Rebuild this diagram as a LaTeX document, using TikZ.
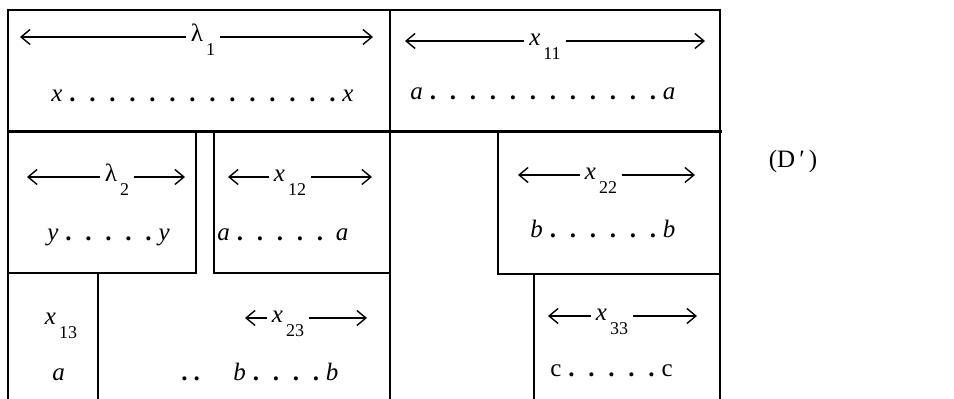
\documentclass[tikz,border=0pt]{standalone}
\usepackage{fontspec}
\setmainfont{Liberation Serif}
\usetikzlibrary{arrows.meta}
% one unit = one dot of a 954 x 399 grid
\tikzset{
  x=0.5pt, y=-0.5pt,
  rule/.style={line width=1.1pt, line cap=rect},
  heavyrule/.style={line width=1.5pt, line cap=rect},
  span/.style={line width=0.65pt,
    -{Straight Barb[length=4.5pt,width=7.5pt,line width=0.7pt]}},
  lab/.style={inner ysep=0pt, inner xsep=2.5pt, font=\fontsize{12.5}{14}\selectfont},
  row/.style={inner sep=0pt, anchor=base west, font=\fontsize{12.5}{14}\selectfont},
}
% a dot in a fixed-width cell, for the dotted sequences
\newcommand\dd{\makebox[10pt]{\textbf{.}}}
% lowered index, set a little apart from its letter
\newcommand\ix[1]{\hspace{1.5pt}\raisebox{-0.55em}{\fontsize{9}{9}\selectfont #1}}
\begin{document}
\begin{tikzpicture}
\useasboundingbox (0,0) rectangle (954,399);

% ---- frame and partitions ----
\draw[rule] (8,399) -- (8,10) -- (720,10) -- (720,399);
\draw[rule] (390,10) -- (390,399);
\draw[heavyrule] (8,132) -- (720,132);
% second row, left part
\draw[rule] (196,132) -- (196,273) -- (8,273);
\draw[rule] (214,132) -- (214,273) -- (390,273);
% second row, right part
\draw[rule] (498,132) -- (498,274) -- (720,274);
% third row
\draw[rule] (98,273) -- (98,399);
\draw[rule] (534,274) -- (534,399);

% ---- lambda_1 ----
\node[lab, anchor=mid] (L1) at (203,37) {λ\ix{1}};
\coordinate (L1l) at (20,37);  \coordinate (L1r) at (373,37);
\draw[span] (L1.mid west) -- (L1l);
\draw[span] (L1.mid east) -- (L1r);
\node[row] (R1) at (51,102) {\textit{x}\dd\dd\dd\dd\dd\dd\dd\dd\dd\dd\dd\dd\dd\dd\textit{x}};

% ---- x_11 ----
\node[lab, anchor=mid] (X11) at (545,41) {\textit{x}\ix{11}};
\coordinate (X11l) at (405,41); \coordinate (X11r) at (705,41);
\draw[span] (X11.mid west) -- (X11l);
\draw[span] (X11.mid east) -- (X11r);
\node[row] (R2) at (410,100) {\textit{a}\dd\dd\dd\dd\dd\dd\dd\dd\dd\dd\dd\dd\textit{a}};

% ---- lambda_2 ----
\node[lab, anchor=mid] (L2) at (117,177) {λ\ix{2}};
\coordinate (L2l) at (27,177); \coordinate (L2r) at (185,177);
\draw[span] (L2.mid west) -- (L2l);
\draw[span] (L2.mid east) -- (L2r);
\node[row] (R3) at (47,241) {\textit{y}\dd\dd\dd\dd\dd\textit{y}};

% ---- x_12 ----
\node[lab, anchor=mid] (X12) at (290,177) {\textit{x}\ix{12}};
\coordinate (X12l) at (228,177); \coordinate (X12r) at (372,177);
\draw[span] (X12.mid west) -- (X12l);
\draw[span] (X12.mid east) -- (X12r);
\node[row] (R4) at (217,241) {\textit{a}\dd\dd\dd\dd\dd\hspace{3pt}\textit{a}};

% ---- x_22 ----
\node[lab, anchor=mid] (X22) at (601,175) {\textit{x}\ix{22}};
\coordinate (X22l) at (518,175); \coordinate (X22r) at (695,175);
\draw[span] (X22.mid west) -- (X22l);
\draw[span] (X22.mid east) -- (X22r);
\node[row] (R5) at (530,238) {\textit{b}\dd\dd\dd\dd\dd\dd\textit{b}};

% ---- x_13 ----
\node[lab, anchor=mid] (X13) at (61,320) {\textit{x}\ix{13}};
\node[row] (R6) at (52,381) {\textit{a}};

% ---- x_23 ----
\node[lab, anchor=mid] (X23) at (288,318) {\textit{x}\ix{23}};
\coordinate (X23l) at (245,318); \coordinate (X23r) at (367,318);
\draw[span] (X23.mid west) -- (X23l);
\draw[span] (X23.mid east) -- (X23r);
\node[row] (R7) at (181,381) {\textbf{.}\hspace{3pt}\textbf{.}};
\node[row] (R8) at (233,381) {\textit{b}\dd\dd\dd\dd\textit{b}};

% ---- x_33 ----
\node[lab, anchor=mid] (X33) at (612,316) {\textit{x}\ix{33}};
\coordinate (X33l) at (548,316); \coordinate (X33r) at (697,316);
\draw[span] (X33.mid west) -- (X33l);
\draw[span] (X33.mid east) -- (X33r);
\node[row] (R9) at (550,377) {c\dd\dd\dd\dd\dd c};

% ---- figure tag ----
\node[row, anchor=mid] (tag) at (793,163) {(D\,′\,)};
\end{tikzpicture}
\end{document}
